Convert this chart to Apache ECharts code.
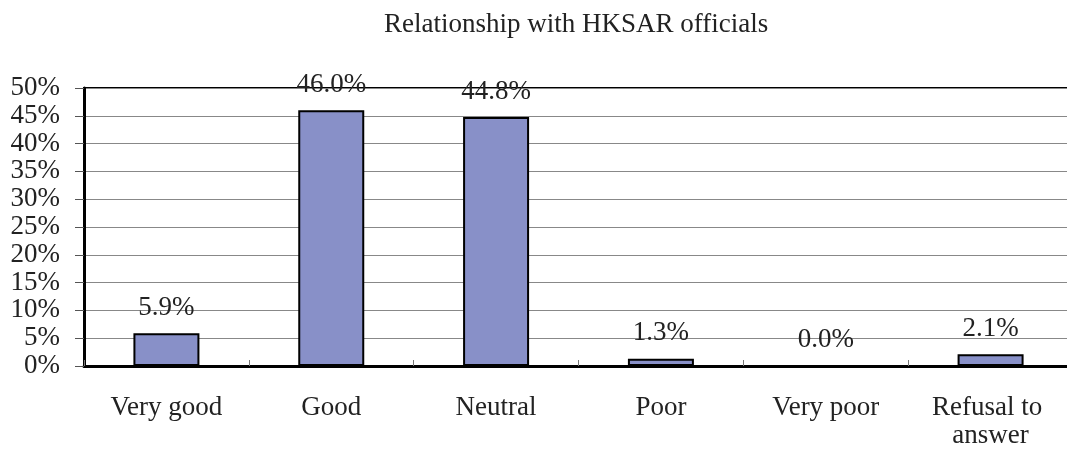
<!DOCTYPE html>
<html>
<head>
<meta charset="utf-8">
<script src="https://cdn.jsdelivr.net/npm/echarts@6/dist/echarts.min.js"></script>
<style>
  html, body { margin: 0; padding: 0; background: #fff; }
  #chart { width: 1067px; height: 450px; }
</style>
</head>
<body>
<div id="chart"></div>
<script>
// 类别与数值
var categories = ['Very good', 'Good', 'Neutral', 'Poor', 'Very poor', 'Refusal to answer'];
var percents = [5.9, 46.0, 44.8, 1.3, 0.0, 2.1];
var yTicks = { min: 0, max: 50, interval: 5 };

var font = 'Liberation Serif, Times New Roman, serif';

var chart = echarts.init(document.getElementById('chart'));

var options = {
  animation: false,
  title: {
    text: 'Relationship with HKSAR officials',
    left: 379, top: 6,
    textStyle: { fontFamily: font, fontSize: 27, fontWeight: 'normal', color: '#222' }
  },
  grid: {
    left: 84, top: 88, bottom: 84, right: -6,
    outerBoundsMode: 'none',
    show: true,
    borderColor: '#000', borderWidth: 2,
    backgroundColor: 'transparent'
  },
  xAxis: {
    type: 'category',
    data: categories,
    axisLine: { lineStyle: { color: '#000', width: 3 } },
    axisTick: { show: true, inside: true, interval: 0, length: 6, lineStyle: { color: '#777' } },
    axisLabel: {
      interval: 0,
      margin: 28,
      fontFamily: font, fontSize: 27, color: '#222',
      lineHeight: 28,
      width: 150, overflow: 'break'
    }
  },
  yAxis: {
    type: 'value',
    min: yTicks.min, max: yTicks.max, interval: yTicks.interval,
    axisLine: { show: true, lineStyle: { color: '#000', width: 3 } },
    axisTick: { show: true, length: 9, lineStyle: { color: '#555' } },
    axisLabel: {
      margin: 24,
      fontFamily: font, fontSize: 27, color: '#222',
      formatter: function (v) { return v + '%'; }
    },
    splitLine: { show: true, lineStyle: { color: '#888', width: 1 } }
  },
  series: [{
    type: 'bar',
    data: percents,
    barWidth: 66,
    itemStyle: { color: '#8890c8', borderColor: '#000', borderWidth: 2 },
    label: {
      show: true,
      position: 'top',
      distance: 12,
      fontFamily: font, fontSize: 27, color: '#222',
      formatter: function (p) { return p.value.toFixed(1) + '%'; }
    }
  }]
};

chart.setOption(options);
</script>
</body>
</html>
